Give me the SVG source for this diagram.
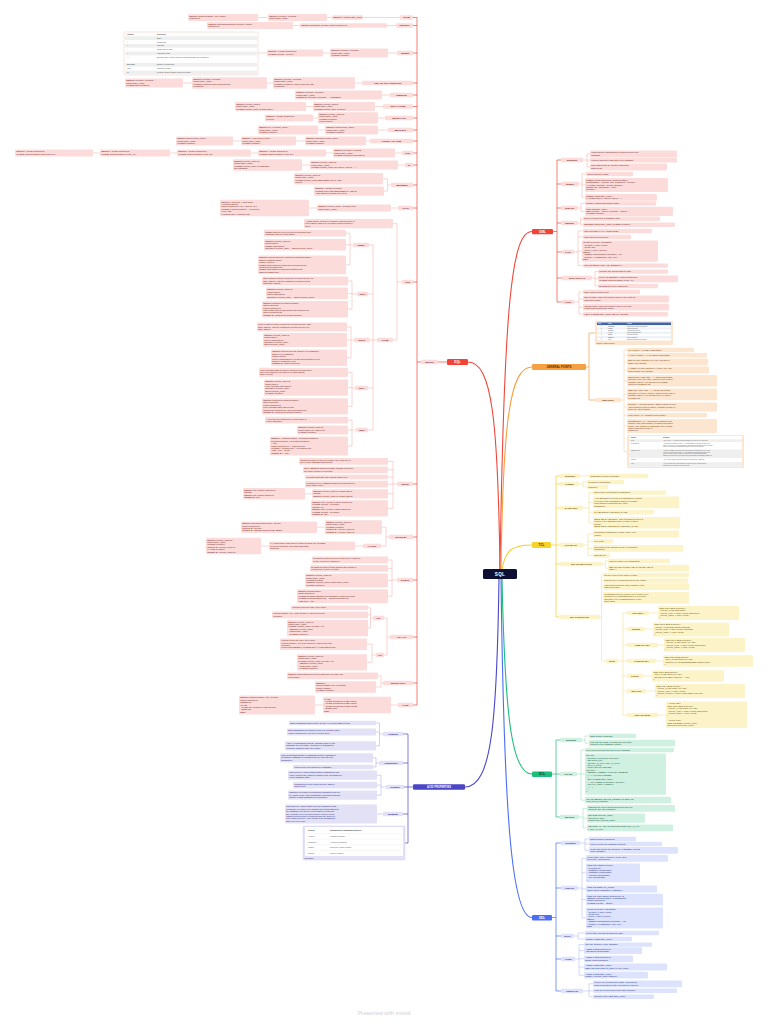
<svg xmlns="http://www.w3.org/2000/svg" width="768" height="1024" viewBox="0 0 768 1024">
<style>
text{font-family:"Liberation Sans",Arial,sans-serif}
.t{font-size:2.2px}
.s{font-size:1.15px}
.l{font-size:2.2px;font-weight:700;text-anchor:middle}
.m{font-size:3px;font-weight:700;text-anchor:middle}
.nr{fill:#fcdcdb}.xr{fill:#6b1f1b}
.no{fill:#fde6d0}.xo{fill:#6e3b0e}
.ny{fill:#fdf3c8}.xy{fill:#5e4b08}
.ng{fill:#d0f1e2}.xg{fill:#124d33}
.nb{fill:#dde3fd}.xb{fill:#1f317f}
.np{fill:#e2e1f6}.xp{fill:#29257a}
.c{fill:none;stroke-width:.45;stroke-linejoin:round}
.cr{stroke:#f4a39c}.co{stroke:#f8c58f}.cy{stroke:#efd66a}.cg{stroke:#7fd8b0}.cb{stroke:#99aaf4}.cp{stroke:#9b98e0}
.sp{fill:none;stroke-width:.7;stroke-linejoin:round}
.mc{fill:none;stroke-width:1.1}
</style>
<rect width="768" height="1024" fill="#ffffff"/>
<g id="connectors">
<path class="mc" stroke="#f0473b" d="M500,570 C498,420 492,362 468,362"/>
<path class="mc" stroke="#f0473b" d="M500,570 C504,300 512,231.5 532,231.5"/>
<path class="mc" stroke="#f5a042" d="M501,570 C503,420 510,367 532,367"/>
<path class="mc" stroke="#f2d02c" d="M502,570 C505,550 512,545 532,545"/>
<path class="mc" stroke="#1dbf7b" d="M502,578 C505,720 512,774 532,774"/>
<path class="mc" stroke="#4c6ef5" d="M501,578 C504,820 512,917.5 532,917.5"/>
<path class="mc" stroke="#4a46c6" d="M499,578 C497,720 492,787 465,787"/>
<path class="sp" stroke="#f0473b" d="M438,362H447M421,362H417M417,17.5V705M413,17.5H417M413,25.5H417M413,53H417M413,83H417M413,95H417M413,106.5H417M413,118H417M413,130H417M413,141H417M413,153H417M413,165H417M413,185H417M413,208H417M413,282H417M413,484H417M413,537H417M413,580H417M413,637H417M413,683H417M413,705H417"/>
<path class="c cr" d="M400,17.5H363M332,17.5H327M268,17.5H258M396,25.5H387M300,25.5H293M397,53H388M330,53H323M267,53H258M362,83H355M273,83H267M192,83H183M390,95H382M383,106.5H375M313,106.5H306M385,118H378M318,118H313M388,130H378M325,130H318M370,141H366M305,141H296M241,141H233M402,153H395M333,153H326M258,153H251M177,153H170M100,153H93M405,165H398M310,165H302M391,185H387.5M387.5,178.8V191.1M387.5,178.8H383M387.5,191.1H384M398,208H391M317,208H309M402,282H397M397,223.6V340M397,223.6H393M397,340H393M377,340H373M373,245V430M373,245H369M373,294H368M373,340H370M373,388H368M373,430H368M353,245H350M350,233.2V264.9M350,233.2H346M350,244.8H346M350,264.9H346M357,294H352M352,281V309.2M352,281H348M352,293.4H348M352,309.2H348M354,340H351M351,327V357.8M351,327H347M351,340H347M351,357.8H347M355,388H352M352,372.4V406.4M352,372.4H348M352,387.6H348M352,406.4H348M356,430H352M352,420.2V446M352,420.2H348M352,430H348M352,446H348M397,484H393M393,461.4V508.4M393,461.4H388M393,469.8H388M393,477H388M393,484.2H388M393,493.8H388M393,508.4H388M312,493.8H305M389,537H386M386,527.2V546M386,527.2H382M386,546H381M325,527.2H317M363,546H355M269,546H261M397,580H392M392,560V596.2M392,560H388M392,568.4H388M392,580.4H388M392,596.2H388M390,637H387M387,618V655M387,618H384M387,655H384M373,618H370.5M370.5,607.8V628M370.5,607.8H368M370.5,614.8H368M370.5,628H368M376,655H372M372,644.2V662.4M372,644.2H367M372,662.4H367M383,683H381M381,675.8V687M381,675.8H378M381,687H376M398,705H391M323,705H315"/>
<path class="sp" stroke="#4a46c6" d="M413,787H408M408,734V843M403,734H408M403,763H408M404,787H408M403,814H408M405,843H408"/>
<path class="c cp" d="M383,734H379.5M379.5,723V745.8M379.5,723H376M379.5,732H376M379.5,745.8H376M379,763H376M376,757.8V767M376,757.8H373M376,767H373M386,787H381M381,775.2V795.2M381,775.2H377M381,785.2H377M381,795.2H377M383,814H377"/>
<path class="sp" stroke="#f0473b" d="M553,231.5H557M557,160V302M557,160H561M557,184H561M557,208H561M557,223H561M557,252H562M557,278H562M557,302H562"/>
<path class="c cr" d="M583,160H587M587,154V167M587,154H590M587,160.2H590M587,167H590M579,184H582M582,174V197.4M582,174H586M582,185H585M582,197.4H585M578,208H581M581,203.4V211.4M581,203.4H585M581,211.4H585M578,223H580.5M580.5,218.8V224.8M580.5,218.8H583M580.5,224.8H583M574,252H578M578,231V265.6M578,231H583M578,237H583M578,251.2H582M578,265.6H583M592,278H595M595,271.6V286M595,271.6H598M595,278.8H598M595,286H598M574,302H579M579,292V314.2M579,292H583M579,299H583M579,307.2H583M579,314.2H583"/>
<path class="sp" stroke="#f5a042" d="M586,367H589M589,333V400M589,333H595M589,400H595"/>
<path class="c co" d="M621,400H624M624,350V451.5M624,350H627M624,355.2H627M624,362H627M624,370H627M624,380.8H627M624,394.4H627M624,407H627M624,415.2H627M624,426H627M624,451.5H627"/>
<path class="sp" stroke="#f2d02c" d="M551,545H556M556,476V617M556,476H560M556,484H560M556,508H559M556,545H559M556,564H560M556,617H559"/>
<path class="c cy" d="M580,476H589M579,484H583M583,482V487M583,482H587M583,487H587M583,508H589M589,492.6V522.8M589,492.6H593M589,502.4H593M589,512.2H593M589,522.8H593M583,545H588M588,534V555.6M588,534H593M588,541.2H593M588,548.4H593M588,555.6H593M603,564H605.5M605.5,561V568.2M605.5,561H608M605.5,568.2H608M600,617H601.5M601.5,575V661M601.5,575H603M601.5,580.6H603M601.5,586.6H603M601.5,597.8H603M601.5,661H606M618,661H623M623,613V715M623,613H627M623,629H627M623,645H627M623,661H627M623,676H627M623,691H627M623,715H627M649,613H658M645,629H653M658,645H664M656,661H663M643,676H652M646,691H655M658,715H666"/>
<path class="sp" stroke="#1dbf7b" d="M552,774H556M556,740V817M556,740H560M556,774H560M556,817H560"/>
<path class="c cg" d="M582,740H585M585,736V743.2M585,736H589M585,743.2H589M577,774H581M581,750V800.2M581,750H585M581,774.1H585M581,800.2H585M579,817H583M583,808.4V827.8M583,808.4H587M583,818.2H587M583,827.8H587"/>
<path class="sp" stroke="#4c6ef5" d="M552,917.5H556M556,843V991M556,843H561M556,888H561M556,936H561M556,959H561M556,991H561"/>
<path class="c cb" d="M580,843H585M585,839V850.4M585,839H589M585,844H589M585,850.4H589M578,888H582M582,858.4V918M582,858.4H586M582,872.8H586M582,889H586M582,899.6H586M582,918H586M574,936H578M578,933V939M578,933H585M578,939H585M575,959H579M579,944.6V975.2M579,944.6H584M579,950.6H584M579,958.8H584M579,967H584M579,975.2H584M583,991H589M589,983.8V996.8M589,983.8H593M589,990.8H593M589,996.8H593"/>
</g>

<g id="sql"><rect x="483" y="569" width="34" height="10" rx="1.5" fill="#0e1033"/><text class="m" x="500" y="575.7" style="font-size:4.6px;fill:#fff;letter-spacing:.3px">SQL</text></g>

<!-- DQL -->
<g id="dql"><rect x="447" y="359" width="21" height="6" rx="1.2" fill="#f44336"/><text class="m" x="457.5" y="363.1" fill="#fff">DQL</text></g>
<g id="l-select"><rect class="nr" x="421" y="359.8" width="17" height="4.4" rx="1"/><text class="l xr" x="429.5" y="362.8">SELECT</text></g>
<g id="l-from"><rect class="nr" x="400" y="15.3" width="13" height="4.4" rx="1"/><text class="l xr" x="406.5" y="18.3">FROM</text></g>
<g id="l-distinct"><rect class="nr" x="396" y="23.3" width="17" height="4.4" rx="1"/><text class="l xr" x="404.5" y="26.3">DISTINCT</text></g>
<g id="l-where"><rect class="nr" x="397" y="50.8" width="16" height="4.4" rx="1"/><text class="l xr" x="405" y="53.8">WHERE</text></g>
<g id="l-andornot"><rect class="nr" x="362" y="80.8" width="51" height="4.4" rx="1"/><text class="l xr" x="387.5" y="83.8">AND, OR, NOT OPERATOR</text></g>
<g id="l-orderby"><rect class="nr" x="390" y="92.8" width="23" height="4.4" rx="1"/><text class="l xr" x="401.5" y="95.8">ORDER BY</text></g>
<g id="l-null"><rect class="nr" x="383" y="104.3" width="30" height="4.4" rx="1"/><text class="l xr" x="398" y="107.3">NULL VALUES</text></g>
<g id="l-top"><rect class="nr" x="385" y="115.8" width="28" height="4.4" rx="1"/><text class="l xr" x="399" y="118.8">SELECT TOP</text></g>
<g id="l-minmax"><rect class="nr" x="388" y="127.8" width="25" height="4.4" rx="1"/><text class="l xr" x="400.5" y="130.8">MIN &amp; MAX</text></g>
<g id="l-count"><rect class="nr" x="370" y="138.8" width="43" height="4.4" rx="1"/><text class="l xr" x="391.5" y="141.8">COUNT, AVG, SUM</text></g>
<g id="l-like"><rect class="nr" x="402" y="150.8" width="11" height="4.4" rx="1"/><text class="l xr" x="407.5" y="153.8">LIKE</text></g>
<g id="l-in"><rect class="nr" x="405" y="162.8" width="8" height="4.4" rx="1"/><text class="l xr" x="409" y="165.8">IN</text></g>
<g id="l-between"><rect class="nr" x="391" y="182.8" width="22" height="4.4" rx="1"/><text class="l xr" x="402" y="185.8">BETWEEN</text></g>
<g id="l-alias"><rect class="nr" x="398" y="205.8" width="15" height="4.4" rx="1"/><text class="l xr" x="405.5" y="208.8">ALIAS</text></g>
<g id="l-join"><rect class="nr" x="402" y="279.8" width="11" height="4.4" rx="1"/><text class="l xr" x="407.5" y="282.8">JOIN</text></g>
<g id="l-types"><rect class="nr" x="377" y="337.8" width="16" height="4.4" rx="1"/><text class="l xr" x="385" y="340.8">TYPES</text></g>
<g id="l-inner"><rect class="nr" x="353" y="242.8" width="16" height="4.4" rx="1"/><text class="l xr" x="361" y="245.8">INNER</text></g>
<g id="l-left"><rect class="nr" x="357" y="291.8" width="11" height="4.4" rx="1"/><text class="l xr" x="362.5" y="294.8">LEFT</text></g>
<g id="l-right"><rect class="nr" x="354" y="337.8" width="16" height="4.4" rx="1"/><text class="l xr" x="362" y="340.8">RIGHT</text></g>
<g id="l-full"><rect class="nr" x="355" y="385.8" width="13" height="4.4" rx="1"/><text class="l xr" x="361.5" y="388.8">FULL</text></g>
<g id="l-self"><rect class="nr" x="356" y="427.8" width="12" height="4.4" rx="1"/><text class="l xr" x="362" y="430.8">SELF</text></g>
<g id="l-union"><rect class="nr" x="397" y="481.8" width="16" height="4.4" rx="1"/><text class="l xr" x="405" y="484.8">UNION</text></g>
<g id="l-groupby"><rect class="nr" x="389" y="534.8" width="24" height="4.4" rx="1"/><text class="l xr" x="401" y="537.8">GROUP BY</text></g>
<g id="l-having"><rect class="nr" x="363" y="543.8" width="18" height="4.4" rx="1"/><text class="l xr" x="372" y="546.8">HAVING</text></g>
<g id="l-exists"><rect class="nr" x="397" y="577.8" width="16" height="4.4" rx="1"/><text class="l xr" x="405" y="580.8">EXISTS</text></g>
<g id="l-anyall"><rect class="nr" x="390" y="634.8" width="23" height="4.4" rx="1"/><text class="l xr" x="401.5" y="637.8">ANY, ALL</text></g>
<g id="l-any"><rect class="nr" x="373" y="615.8" width="11" height="4.4" rx="1"/><text class="l xr" x="378.5" y="618.8">ANY</text></g>
<g id="l-all"><rect class="nr" x="376" y="652.8" width="8" height="4.4" rx="1"/><text class="l xr" x="380" y="655.8">ALL</text></g>
<g id="l-into"><rect class="nr" x="383" y="680.8" width="30" height="4.4" rx="1"/><text class="l xr" x="398" y="683.8">SELECT INTO</text></g>
<g id="l-case"><rect class="nr" x="398" y="702.8" width="15" height="4.4" rx="1"/><text class="l xr" x="405.5" y="705.8">CASE</text></g>

<g id="from-a"><rect class="nr" x="332" y="15.3" width="31" height="4.4" rx="1"/><text class="t xr" x="333.2" y="18.1">SELECT * FROM table_name</text></g>
<g id="from-b"><rect class="nr" x="268" y="14.1" width="59" height="6.8" rx="1"/><text class="t xr" x="269.2" y="16.9">SELECT column1, column2, ...<tspan x="269.2" dy="2.4">FROM table_name;</tspan></text></g>
<g id="from-c"><rect class="nr" x="188" y="14.1" width="70" height="6.8" rx="1"/><text class="t xr" x="189.2" y="16.9">SELECT CustomerName, City FROM<tspan x="189.2" dy="2.4">Customers;</tspan></text></g>
<g id="distinct-a"><rect class="nr" x="300" y="23.3" width="87" height="4.4" rx="1"/><text class="t xr" x="301.2" y="26.1">SELECT DISTINCT Country FROM Customers;</text></g>
<g id="distinct-b"><rect class="nr" x="207" y="22.1" width="86" height="6.8" rx="1"/><text class="t xr" x="208.2" y="24.9">SELECT COUNT(DISTINCT Country) FROM<tspan x="208.2" dy="2.4">Customers;</tspan></text></g>
<g id="where-a"><rect class="nr" x="330" y="48.4" width="58" height="9.2" rx="1"/><text class="t xr" x="331.2" y="51.2">SELECT column1, column2, ...<tspan x="331.2" dy="2.4">FROM table_name</tspan><tspan x="331.2" dy="2.4">WHERE condition;</tspan></text></g>
<g id="where-b"><rect class="nr" x="267" y="49.6" width="56" height="6.8" rx="1"/><text class="t xr" x="268.2" y="52.4">SELECT * FROM Customers<tspan x="268.2" dy="2.4">WHERE Country='Mexico';</tspan></text></g>
<g id="where-table">
<rect x="124" y="32" width="134" height="43" rx="1" fill="#ffffff" stroke="#f6b8b3" stroke-width=".4"/>
<rect x="125" y="36.3" width="132" height="3.8" fill="#efefef"/>
<rect x="125" y="43.9" width="132" height="3.8" fill="#efefef"/>
<rect x="125" y="51.5" width="132" height="3.8" fill="#efefef"/>
<rect x="125" y="62.9" width="132" height="3.8" fill="#efefef"/>
<rect x="125" y="70.5" width="132" height="3.8" fill="#efefef"/>
<g style="font-size:1.6px" fill="#444">
<text x="127" y="35" font-weight="700">Operator</text><text x="157" y="35" font-weight="700">Description</text>
<text x="127" y="38.8">=</text><text x="157" y="38.8">Equal</text>
<text x="127" y="42.6">&gt;</text><text x="157" y="42.6">Greater than</text>
<text x="127" y="46.4">&lt;</text><text x="157" y="46.4">Less than</text>
<text x="127" y="50.2">&gt;=</text><text x="157" y="50.2">Greater than or equal</text>
<text x="127" y="54">&lt;=</text><text x="157" y="54">Less than or equal</text>
<text x="127" y="57.8">&lt;&gt;</text><text x="157" y="57.8">Not equal. Note: In some versions of SQL this operator may be written as<tspan x="157" dy="1.6">!=</tspan></text>
<text x="127" y="65.4">BETWEEN</text><text x="157" y="65.4">Between a certain range</text>
<text x="127" y="69.2">LIKE</text><text x="157" y="69.2">Search for a pattern</text>
<text x="127" y="73">IN</text><text x="157" y="73">To specify multiple possible values for a column</text>
</g>
</g>
<g id="andornot-a"><rect class="nr" x="273" y="77.2" width="82" height="11.6" rx="1"/><text class="t xr" x="274.2" y="80">SELECT column1, column2, ...<tspan x="274.2" dy="2.4">FROM table_name</tspan><tspan x="274.2" dy="2.4">WHERE condition1 AND condition2 AND</tspan><tspan x="274.2" dy="2.4">condition3 ...;</tspan></text></g>
<g id="andornot-b"><rect class="nr" x="192" y="77.2" width="75" height="11.6" rx="1"/><text class="t xr" x="193.2" y="80">SELECT column1, column2, ...<tspan x="193.2" dy="2.4">FROM table_name</tspan><tspan x="193.2" dy="2.4">WHERE condition1 OR condition2 OR</tspan><tspan x="193.2" dy="2.4">condition3 ...;</tspan></text></g>
<g id="andornot-c"><rect class="nr" x="125" y="78.4" width="58" height="9.2" rx="1"/><text class="t xr" x="126.2" y="81.2">SELECT column1, column2, ...<tspan x="126.2" dy="2.4">FROM table_name</tspan><tspan x="126.2" dy="2.4">WHERE NOT condition;</tspan></text></g>
<g id="orderby-a"><rect class="nr" x="295" y="90.4" width="87" height="9.2" rx="1"/><text class="t xr" x="296.2" y="93.2">SELECT column1, column2, ...<tspan x="296.2" dy="2.4">FROM table_name</tspan><tspan x="296.2" dy="2.4">ORDER BY column1, column2, ... ASC|DESC;</tspan></text></g>
<g id="null-a"><rect class="nr" x="313" y="101.9" width="62" height="9.2" rx="1"/><text class="t xr" x="314.2" y="104.7">SELECT column_names<tspan x="314.2" dy="2.4">FROM table_name</tspan><tspan x="314.2" dy="2.4">WHERE column_name IS NULL;</tspan></text></g>
<g id="null-b"><rect class="nr" x="235" y="101.9" width="71" height="9.2" rx="1"/><text class="t xr" x="236.2" y="104.7">SELECT column_names<tspan x="236.2" dy="2.4">FROM table_name</tspan><tspan x="236.2" dy="2.4">WHERE column_name IS NOT NULL;</tspan></text></g>
<g id="top-a"><rect class="nr" x="318" y="112.2" width="60" height="11.6" rx="1"/><text class="t xr" x="319.2" y="115">SELECT column_name(s)<tspan x="319.2" dy="2.4">FROM table_name</tspan><tspan x="319.2" dy="2.4">WHERE condition</tspan><tspan x="319.2" dy="2.4">LIMIT number;</tspan></text></g>
<g id="top-b"><rect class="nr" x="265" y="114.6" width="48" height="6.8" rx="1"/><text class="t xr" x="266.2" y="117.4">SELECT * FROM Customers<tspan x="266.2" dy="2.4">LIMIT 3;</tspan></text></g>
<g id="minmax-a"><rect class="nr" x="325" y="125.4" width="53" height="9.2" rx="1"/><text class="t xr" x="326.2" y="128.2">SELECT MIN(column_name)<tspan x="326.2" dy="2.4">FROM table_name</tspan><tspan x="326.2" dy="2.4">WHERE condition;</tspan></text></g>
<g id="minmax-b"><rect class="nr" x="258" y="125.4" width="60" height="9.2" rx="1"/><text class="t xr" x="259.2" y="128.2">SELECT MAX(column_name)<tspan x="259.2" dy="2.4">FROM table_name</tspan><tspan x="259.2" dy="2.4">WHERE condition;</tspan></text></g>
<g id="count-a"><rect class="nr" x="305" y="136.4" width="61" height="9.2" rx="1"/><text class="t xr" x="306.2" y="139.2">SELECT COUNT(column_name)<tspan x="306.2" dy="2.4">FROM table_name</tspan><tspan x="306.2" dy="2.4">WHERE condition;</tspan></text></g>
<g id="count-b"><rect class="nr" x="241" y="136.4" width="55" height="9.2" rx="1"/><text class="t xr" x="242.2" y="139.2">SELECT AVG(column_name)<tspan x="242.2" dy="2.4">FROM table_name</tspan><tspan x="242.2" dy="2.4">WHERE condition;</tspan></text></g>
<g id="count-c"><rect class="nr" x="176" y="136.4" width="57" height="9.2" rx="1"/><text class="t xr" x="177.2" y="139.2">SELECT SUM(column_name)<tspan x="177.2" dy="2.4">FROM table_name</tspan><tspan x="177.2" dy="2.4">WHERE condition;</tspan></text></g>
<g id="like-a"><rect class="nr" x="333" y="148.4" width="62" height="9.2" rx="1"/><text class="t xr" x="334.2" y="151.2">SELECT column1, column2, ...<tspan x="334.2" dy="2.4">FROM table_name</tspan><tspan x="334.2" dy="2.4">WHERE columnN LIKE pattern;</tspan></text></g>
<g id="like-b"><rect class="nr" x="258" y="149.6" width="68" height="6.8" rx="1"/><text class="t xr" x="259.2" y="152.4">SELECT * FROM Customers<tspan x="259.2" dy="2.4">WHERE CustomerName LIKE 'a%';</tspan></text></g>
<g id="like-c"><rect class="nr" x="177" y="149.6" width="74" height="6.8" rx="1"/><text class="t xr" x="178.2" y="152.4">SELECT * FROM Customers<tspan x="178.2" dy="2.4">WHERE CustomerName LIKE '%a';</tspan></text></g>
<g id="like-d"><rect class="nr" x="100" y="149.6" width="70" height="6.8" rx="1"/><text class="t xr" x="101.2" y="152.4">SELECT * FROM Customers<tspan x="101.2" dy="2.4">WHERE CustomerName LIKE '_r%';</tspan></text></g>
<g id="like-e"><rect class="nr" x="15" y="149.6" width="78" height="6.8" rx="1"/><text class="t xr" x="16.2" y="152.4">SELECT * FROM Customers<tspan x="16.2" dy="2.4">WHERE CustomerName NOT LIKE 'a%';</tspan></text></g>
<g id="in-a"><rect class="nr" x="310" y="160.4" width="88" height="9.2" rx="1"/><text class="t xr" x="311.2" y="163.2">SELECT column_name(s)<tspan x="311.2" dy="2.4">FROM table_name</tspan><tspan x="311.2" dy="2.4">WHERE column_name IN (value1, value2, ...);</tspan></text></g>
<g id="in-b"><rect class="nr" x="233" y="159.2" width="69" height="11.6" rx="1"/><text class="t xr" x="234.2" y="162">SELECT column_name(s)<tspan x="234.2" dy="2.4">FROM table_name</tspan><tspan x="234.2" dy="2.4">WHERE column_name IN (SELECT</tspan><tspan x="234.2" dy="2.4">STATEMENT);</tspan></text></g>
<g id="between-a"><rect class="nr" x="294" y="173" width="89" height="11.6" rx="1"/><text class="t xr" x="295.2" y="175.8">SELECT column_name(s)<tspan x="295.2" dy="2.4">FROM table_name</tspan><tspan x="295.2" dy="2.4">WHERE column_name BETWEEN value1 AND</tspan><tspan x="295.2" dy="2.4">value2;</tspan></text></g>
<g id="between-b"><rect class="nr" x="314" y="186.5" width="70" height="9.2" rx="1"/><text class="t xr" x="315.2" y="189.3">SELECT * FROM Products<tspan x="315.2" dy="2.4">WHERE Price NOT BETWEEN 10 AND 20</tspan><tspan x="315.2" dy="2.4">AND CategoryID NOT IN (1,2,3);</tspan></text></g>
<g id="alias-a"><rect class="nr" x="317" y="204.6" width="74" height="6.8" rx="1"/><text class="t xr" x="318.2" y="207.4">SELECT column_name AS alias_name<tspan x="318.2" dy="2.4">FROM table_name;</tspan></text></g>
<g id="alias-b"><rect class="nr" x="220" y="199.8" width="89" height="16.4" rx="1"/><text class="t xr" x="221.2" y="202.6">SELECT o.OrderID, o.OrderDate,<tspan x="221.2" dy="2.4">c.CustomerName</tspan><tspan x="221.2" dy="2.4">FROM Customers AS c, Orders AS o</tspan><tspan x="221.2" dy="2.4">WHERE c.CustomerName='Around the</tspan><tspan x="221.2" dy="2.4">Horn' AND</tspan><tspan x="221.2" dy="2.4">c.CustomerID=o.CustomerID;</tspan></text></g>
<g id="join-desc"><rect class="nr" x="304" y="219" width="89" height="9.2" rx="1"/><text class="t xr" x="305.2" y="221.8">A JOIN clause is used to combine rows from two or<tspan x="305.2" dy="2.4">more tables, based on a related column between</tspan><tspan x="305.2" dy="2.4">them.</tspan></text></g>
<g id="inner-a"><rect class="nr" x="264" y="229.8" width="82" height="6.8" rx="1"/><text class="t xr" x="265.2" y="232.6">INNER JOIN keyword selects records that have<tspan x="265.2" dy="2.4">matching values in both tables</tspan></text></g>
<g id="inner-b"><rect class="nr" x="264" y="239" width="82" height="11.6" rx="1"/><text class="t xr" x="265.2" y="241.8">SELECT column_name(s)<tspan x="265.2" dy="2.4">FROM table1</tspan><tspan x="265.2" dy="2.4">INNER JOIN table2</tspan><tspan x="265.2" dy="2.4">ON table1.column_name = table2.column_name;</tspan></text></g>
<g id="inner-c"><rect class="nr" x="258" y="255.5" width="88" height="18.8" rx="1"/><text class="t xr" x="259.2" y="258.3">SELECT Orders.OrderID, Customers.CustomerName,<tspan x="259.2" dy="2.4">Shippers.ShipperName</tspan><tspan x="259.2" dy="2.4">FROM ((Orders</tspan><tspan x="259.2" dy="2.4">INNER JOIN Customers ON Orders.CustomerID =</tspan><tspan x="259.2" dy="2.4">Customers.CustomerID)</tspan><tspan x="259.2" dy="2.4">INNER JOIN Shippers ON Orders.ShipperID =</tspan><tspan x="259.2" dy="2.4">Shippers.ShipperID);</tspan></text></g>
<g id="left-a"><rect class="nr" x="262" y="276.4" width="86" height="9.2" rx="1"/><text class="t xr" x="263.2" y="279.2">LEFT JOIN keyword returns all records from the left<tspan x="263.2" dy="2.4">table (table1), and the matching records from the</tspan><tspan x="263.2" dy="2.4">right table (table2)</tspan></text></g>
<g id="left-b"><rect class="nr" x="266" y="287.6" width="82" height="11.6" rx="1"/><text class="t xr" x="267.2" y="290.4">SELECT column_name(s)<tspan x="267.2" dy="2.4">FROM table1</tspan><tspan x="267.2" dy="2.4">LEFT JOIN table2</tspan><tspan x="267.2" dy="2.4">ON table1.column_name = table2.column_name;</tspan></text></g>
<g id="left-c"><rect class="nr" x="262" y="301" width="86" height="16.4" rx="1"/><text class="t xr" x="263.2" y="303.8">SELECT Customers.CustomerName,<tspan x="263.2" dy="2.4">Orders.OrderID</tspan><tspan x="263.2" dy="2.4">FROM Customers</tspan><tspan x="263.2" dy="2.4">LEFT JOIN Orders ON Customers.CustomerID =</tspan><tspan x="263.2" dy="2.4">Orders.CustomerID</tspan><tspan x="263.2" dy="2.4">ORDER BY Customers.CustomerName;</tspan></text></g>
<g id="right-a"><rect class="nr" x="257" y="322.4" width="90" height="9.2" rx="1"/><text class="t xr" x="258.2" y="325.2">RIGHT JOIN keyword returns all records from the right<tspan x="258.2" dy="2.4">table (table2), and the matching records from the left</tspan><tspan x="258.2" dy="2.4">table (table1)</tspan></text></g>
<g id="right-b"><rect class="nr" x="263" y="333" width="84" height="14" rx="1"/><text class="t xr" x="264.2" y="335.8">SELECT column_name(s)<tspan x="264.2" dy="2.4">FROM table1</tspan><tspan x="264.2" dy="2.4">RIGHT JOIN table2</tspan><tspan x="264.2" dy="2.4">ON table1.column_name =</tspan><tspan x="264.2" dy="2.4">table2.column_name;</tspan></text></g>
<g id="right-c"><rect class="nr" x="271" y="349.6" width="76" height="16.4" rx="1"/><text class="t xr" x="272.2" y="352.4">SELECT Orders.OrderID, Employees.LastName,<tspan x="272.2" dy="2.4">Employees.FirstName</tspan><tspan x="272.2" dy="2.4">FROM Orders</tspan><tspan x="272.2" dy="2.4">RIGHT JOIN Employees ON Orders.EmployeeID =</tspan><tspan x="272.2" dy="2.4">Employees.EmployeeID</tspan><tspan x="272.2" dy="2.4">ORDER BY Orders.OrderID;</tspan></text></g>
<g id="full-a"><rect class="nr" x="259" y="367.8" width="89" height="9.2" rx="1"/><text class="t xr" x="260.2" y="370.6">FULL OUTER JOIN keyword returns all records when<tspan x="260.2" dy="2.4">there is a match in left (table1) or right (table2)</tspan><tspan x="260.2" dy="2.4">table records</tspan></text></g>
<g id="full-b"><rect class="nr" x="264" y="379.4" width="84" height="16.4" rx="1"/><text class="t xr" x="265.2" y="382.2">SELECT column_name(s)<tspan x="265.2" dy="2.4">FROM table1</tspan><tspan x="265.2" dy="2.4">FULL OUTER JOIN table2</tspan><tspan x="265.2" dy="2.4">ON table1.column_name =</tspan><tspan x="265.2" dy="2.4">table2.column_name</tspan><tspan x="265.2" dy="2.4">WHERE condition;</tspan></text></g>
<g id="full-c"><rect class="nr" x="262" y="398.2" width="86" height="16.4" rx="1"/><text class="t xr" x="263.2" y="401">SELECT Customers.CustomerName,<tspan x="263.2" dy="2.4">Orders.OrderID</tspan><tspan x="263.2" dy="2.4">FROM Customers</tspan><tspan x="263.2" dy="2.4">FULL OUTER JOIN Orders ON</tspan><tspan x="263.2" dy="2.4">Customers.CustomerID=Orders.CustomerID</tspan><tspan x="263.2" dy="2.4">ORDER BY Customers.CustomerName;</tspan></text></g>
<g id="self-a"><rect class="nr" x="265" y="416.8" width="83" height="6.8" rx="1"/><text class="t xr" x="266.2" y="419.6">A self join is a regular join, but the table is<tspan x="266.2" dy="2.4">joined with itself.</tspan></text></g>
<g id="self-b"><rect class="nr" x="297" y="425.4" width="51" height="9.2" rx="1"/><text class="t xr" x="298.2" y="428.2">SELECT column_name(s)<tspan x="298.2" dy="2.4">FROM table1 T1, table1 T2</tspan><tspan x="298.2" dy="2.4">WHERE condition;</tspan></text></g>
<g id="self-c"><rect class="nr" x="270" y="436.6" width="78" height="18.8" rx="1"/><text class="t xr" x="271.2" y="439.4">SELECT A.CustomerName AS CustomerName1,<tspan x="271.2" dy="2.4">B.CustomerName AS CustomerName2,</tspan><tspan x="271.2" dy="2.4">A.City</tspan><tspan x="271.2" dy="2.4">FROM Customers A, Customers B</tspan><tspan x="271.2" dy="2.4">WHERE A.CustomerID &lt;&gt; B.CustomerID</tspan><tspan x="271.2" dy="2.4">AND A.City = B.City</tspan><tspan x="271.2" dy="2.4">ORDER BY A.City;</tspan></text></g>
<g id="union-a"><rect class="nr" x="299" y="458" width="89" height="6.8" rx="1"/><text class="t xr" x="300.2" y="460.8">UNION operator is used to combine the result-set of<tspan x="300.2" dy="2.4">two or more SELECT statements.</tspan></text></g>
<g id="union-b"><rect class="nr" x="303" y="466.4" width="85" height="6.8" rx="1"/><text class="t xr" x="304.2" y="469.2">Every SELECT statement within UNION must have<tspan x="304.2" dy="2.4">the same number of columns</tspan></text></g>
<g id="union-c"><rect class="nr" x="305" y="474.8" width="83" height="4.4" rx="1"/><text class="t xr" x="306.2" y="477.6">columns must also have similar data types</text></g>
<g id="union-d"><rect class="nr" x="305" y="480.8" width="83" height="6.8" rx="1"/><text class="t xr" x="306.2" y="483.6">columns in every SELECT statement must also be<tspan x="306.2" dy="2.4">in the same order</tspan></text></g>
<g id="union-e"><rect class="nr" x="312" y="489.2" width="76" height="9.2" rx="1"/><text class="t xr" x="313.2" y="492">SELECT column_name(s) FROM table1<tspan x="313.2" dy="2.4">UNION</tspan><tspan x="313.2" dy="2.4">SELECT column_name(s) FROM table2;</tspan></text></g>
<g id="union-f"><rect class="nr" x="243" y="488" width="62" height="11.6" rx="1"/><text class="t xr" x="244.2" y="490.8">SELECT City FROM Customers<tspan x="244.2" dy="2.4">UNION</tspan><tspan x="244.2" dy="2.4">SELECT City FROM Suppliers</tspan><tspan x="244.2" dy="2.4">ORDER BY City;</tspan></text></g>
<g id="union-g"><rect class="nr" x="311" y="500.2" width="77" height="16.4" rx="1"/><text class="t xr" x="312.2" y="503">SELECT City, Country FROM Customers<tspan x="312.2" dy="2.4">WHERE Country='Germany'</tspan><tspan x="312.2" dy="2.4">UNION ALL</tspan><tspan x="312.2" dy="2.4">SELECT City, Country FROM Suppliers</tspan><tspan x="312.2" dy="2.4">WHERE Country='Germany'</tspan><tspan x="312.2" dy="2.4">ORDER BY City;</tspan></text></g>
<g id="groupby-a"><rect class="nr" x="325" y="520.2" width="57" height="14" rx="1"/><text class="t xr" x="326.2" y="523">SELECT column_name(s)<tspan x="326.2" dy="2.4">FROM table_name</tspan><tspan x="326.2" dy="2.4">WHERE condition</tspan><tspan x="326.2" dy="2.4">GROUP BY column_name(s)</tspan><tspan x="326.2" dy="2.4">ORDER BY column_name(s);</tspan></text></g>
<g id="groupby-b"><rect class="nr" x="241" y="521.4" width="76" height="11.6" rx="1"/><text class="t xr" x="242.2" y="524.2">SELECT COUNT(CustomerID), Country<tspan x="242.2" dy="2.4">FROM Customers</tspan><tspan x="242.2" dy="2.4">GROUP BY Country</tspan><tspan x="242.2" dy="2.4">ORDER BY COUNT(CustomerID) DESC;</tspan></text></g>
<g id="having-a"><rect class="nr" x="269" y="541.4" width="86" height="9.2" rx="1"/><text class="t xr" x="270.2" y="544.2">HAVING clause was added to SQL because the WHERE<tspan x="270.2" dy="2.4">keyword cannot be used with aggregate</tspan><tspan x="270.2" dy="2.4">functions.</tspan></text></g>
<g id="having-b"><rect class="nr" x="206" y="537.8" width="55" height="16.4" rx="1"/><text class="t xr" x="207.2" y="540.6">SELECT column_name(s)<tspan x="207.2" dy="2.4">FROM table_name</tspan><tspan x="207.2" dy="2.4">WHERE condition</tspan><tspan x="207.2" dy="2.4">GROUP BY column_name(s)</tspan><tspan x="207.2" dy="2.4">HAVING condition</tspan><tspan x="207.2" dy="2.4">ORDER BY column_name(s);</tspan></text></g>
<g id="exists-a"><rect class="nr" x="312" y="556.6" width="76" height="6.8" rx="1"/><text class="t xr" x="313.2" y="559.4">EXISTS operator is used to test for the existence<tspan x="313.2" dy="2.4">of any record in a subquery.</tspan></text></g>
<g id="exists-b"><rect class="nr" x="310" y="565" width="78" height="6.8" rx="1"/><text class="t xr" x="311.2" y="567.8">EXISTS operator returns TRUE if the subquery<tspan x="311.2" dy="2.4">returns one or more records.</tspan></text></g>
<g id="exists-c"><rect class="nr" x="305" y="573.4" width="83" height="14" rx="1"/><text class="t xr" x="306.2" y="576.2">SELECT column_name(s)<tspan x="306.2" dy="2.4">FROM table_name</tspan><tspan x="306.2" dy="2.4">WHERE EXISTS</tspan><tspan x="306.2" dy="2.4">(SELECT column_name FROM table_name</tspan><tspan x="306.2" dy="2.4">WHERE condition);</tspan></text></g>
<g id="exists-d"><rect class="nr" x="297" y="589.2" width="91" height="14" rx="1"/><text class="t xr" x="298.2" y="592">SELECT SupplierName<tspan x="298.2" dy="2.4">FROM Suppliers</tspan><tspan x="298.2" dy="2.4">WHERE EXISTS (SELECT ProductName FROM Products</tspan><tspan x="298.2" dy="2.4">WHERE Products.SupplierID = Suppliers.supplierID</tspan><tspan x="298.2" dy="2.4">AND Price &lt; 20);</tspan></text></g>
<g id="any-a"><rect class="nr" x="291" y="605.6" width="77" height="4.4" rx="1"/><text class="t xr" x="292.2" y="608.4">returns a boolean value as a result</text></g>
<g id="any-b"><rect class="nr" x="272" y="611.4" width="96" height="6.8" rx="1"/><text class="t xr" x="273.2" y="614.2">returns TRUE if ANY of the subquery values meet the<tspan x="273.2" dy="2.4">condition</tspan></text></g>
<g id="any-c"><rect class="nr" x="287" y="619.8" width="81" height="16.4" rx="1"/><text class="t xr" x="288.2" y="622.6">SELECT column_name(s)<tspan x="288.2" dy="2.4">FROM table_name</tspan><tspan x="288.2" dy="2.4">WHERE column_name operator ANY</tspan><tspan x="288.2" dy="2.4">&#160;&#160;(SELECT column_name</tspan><tspan x="288.2" dy="2.4">&#160;&#160;FROM table_name</tspan><tspan x="288.2" dy="2.4">&#160;&#160;WHERE condition);</tspan></text></g>
<g id="all-a"><rect class="nr" x="280" y="638.4" width="87" height="11.6" rx="1"/><text class="t xr" x="281.2" y="641.2">returns a boolean value as a result<tspan x="281.2" dy="2.4">returns TRUE if ALL of the subquery values meet the</tspan><tspan x="281.2" dy="2.4">condition</tspan><tspan x="281.2" dy="2.4">is used with SELECT, WHERE and HAVING statements</tspan></text></g>
<g id="all-b"><rect class="nr" x="297" y="654.2" width="70" height="16.4" rx="1"/><text class="t xr" x="298.2" y="657">SELECT column_name(s)<tspan x="298.2" dy="2.4">FROM table_name</tspan><tspan x="298.2" dy="2.4">WHERE column_name operator ALL</tspan><tspan x="298.2" dy="2.4">&#160;&#160;(SELECT column_name</tspan><tspan x="298.2" dy="2.4">&#160;&#160;FROM table_name</tspan><tspan x="298.2" dy="2.4">&#160;&#160;WHERE condition);</tspan></text></g>
<g id="into-a"><rect class="nr" x="287" y="672.4" width="91" height="6.8" rx="1"/><text class="t xr" x="288.2" y="675.2">SELECT INTO statement copies data from one table into<tspan x="288.2" dy="2.4">a new table.</tspan></text></g>
<g id="into-b"><rect class="nr" x="315" y="681.2" width="61" height="11.6" rx="1"/><text class="t xr" x="316.2" y="684">SELECT *<tspan x="316.2" dy="2.4">INTO newtable [IN externaldb]</tspan><tspan x="316.2" dy="2.4">FROM oldtable</tspan><tspan x="316.2" dy="2.4">WHERE condition;</tspan></text></g>
<g id="case-a"><rect class="nr" x="323" y="696.8" width="68" height="16.4" rx="1"/><text class="t xr" x="324.2" y="699.6">CASE<tspan x="324.2" dy="2.4">&#160;&#160;WHEN condition1 THEN result1</tspan><tspan x="324.2" dy="2.4">&#160;&#160;WHEN condition2 THEN result2</tspan><tspan x="324.2" dy="2.4">&#160;&#160;WHEN conditionN THEN resultN</tspan><tspan x="324.2" dy="2.4">&#160;&#160;ELSE result</tspan><tspan x="324.2" dy="2.4">END;</tspan></text></g>
<g id="case-b"><rect class="nr" x="239" y="695.6" width="76" height="18.8" rx="1"/><text class="t xr" x="240.2" y="698.4">SELECT CustomerName, City, Country<tspan x="240.2" dy="2.4">FROM Customers</tspan><tspan x="240.2" dy="2.4">ORDER BY</tspan><tspan x="240.2" dy="2.4">(CASE</tspan><tspan x="240.2" dy="2.4">&#160;&#160;WHEN City IS NULL THEN Country</tspan><tspan x="240.2" dy="2.4">&#160;&#160;ELSE City</tspan><tspan x="240.2" dy="2.4">END);</tspan></text></g>

<!-- ACID -->
<g id="acid"><rect x="413" y="784.2" width="52" height="5.6" rx="1.2" fill="#4a46c6"/><text class="m" x="439" y="788" fill="#fff" style="font-size:2.6px">ACID PROPERTIES</text></g>
<g id="l-atomicity"><rect class="np" x="383" y="731.8" width="20" height="4.4" rx="1"/><text class="l xp" x="393" y="734.8">Atomicity</text></g>
<g id="l-consistency"><rect class="np" x="379" y="760.8" width="24" height="4.4" rx="1"/><text class="l xp" x="391" y="763.8">Consistency</text></g>
<g id="l-isolation"><rect class="np" x="386" y="784.8" width="18" height="4.4" rx="1"/><text class="l xp" x="395" y="787.8">Isolation</text></g>
<g id="l-durability"><rect class="np" x="383" y="811.8" width="20" height="4.4" rx="1"/><text class="l xp" x="393" y="814.8">Durability</text></g>
<g id="atom-a"><rect class="np" x="289" y="720.8" width="87" height="4.4" rx="1"/><text class="t xp" x="290.2" y="723.6">Entire transaction takes place at once or doesn't happen at all.</text></g>
<g id="atom-b"><rect class="np" x="287" y="728.6" width="89" height="6.8" rx="1"/><text class="t xp" x="288.2" y="731.4">Each transaction is considered as one unit and either<tspan x="288.2" dy="2.4">runs to completion or is not executed at all.</tspan></text></g>
<g id="atom-c"><rect class="np" x="285" y="741.2" width="91" height="9.2" rx="1"/><text class="t xp" x="286.2" y="744">Abort: If a transaction aborts, changes made to the<tspan x="286.2" dy="2.4">database are not visible. Commit: If a transaction</tspan><tspan x="286.2" dy="2.4">commits, changes made are visible.</tspan></text></g>
<g id="cons-a"><rect class="np" x="280" y="753.2" width="93" height="9.2" rx="1"/><text class="t xp" x="281.2" y="756">This means that integrity constraints must be maintained<tspan x="281.2" dy="2.4">so that the database is consistent before and after the</tspan><tspan x="281.2" dy="2.4">transaction.</tspan></text></g>
<g id="cons-b"><rect class="np" x="293" y="764.8" width="80" height="4.4" rx="1"/><text class="t xp" x="294.2" y="767.6">refers to the correctness of a database</text></g>
<g id="iso-a"><rect class="np" x="288" y="770.6" width="89" height="9.2" rx="1"/><text class="t xp" x="289.2" y="773.4">This property ensures that multiple transactions can<tspan x="289.2" dy="2.4">occur concurrently without leading to the inconsistency</tspan><tspan x="289.2" dy="2.4">of the database state.</tspan></text></g>
<g id="iso-b"><rect class="np" x="293" y="781.8" width="84" height="6.8" rx="1"/><text class="t xp" x="294.2" y="784.6">Transactions occur independently without<tspan x="294.2" dy="2.4">interference.</tspan></text></g>
<g id="iso-c"><rect class="np" x="288" y="790.6" width="89" height="9.2" rx="1"/><text class="t xp" x="289.2" y="793.4">Changes occurring in a particular transaction will not<tspan x="289.2" dy="2.4">be visible to any other transaction until that particular</tspan><tspan x="289.2" dy="2.4">change in that transaction is committed.</tspan></text></g>
<g id="dur-a"><rect class="np" x="285" y="804.6" width="92" height="18.8" rx="1"/><text class="t xp" x="286.2" y="807.4">This property ensures that once the transaction has<tspan x="286.2" dy="2.4">completed execution, the updates and modifications to</tspan><tspan x="286.2" dy="2.4">the database are stored in and written to disk and</tspan><tspan x="286.2" dy="2.4">they persist even if a system failure occurs. These</tspan><tspan x="286.2" dy="2.4">updates now become permanent and are stored in</tspan><tspan x="286.2" dy="2.4">non-volatile memory. The effects of the transaction,</tspan><tspan x="286.2" dy="2.4">thus, are never lost.</tspan></text></g>
<g id="acid-summary">
<rect class="np" x="303" y="826" width="102" height="34" rx="1" stroke="#c9c6ef" stroke-width=".4"/>
<rect x="305" y="827" width="98" height="29" fill="#ffffff"/>
<path d="M306,833.5H402M306,839.2H402M306,844.9H402M306,850.6H402" stroke="#e4e4e4" stroke-width=".3"/>
<g style="font-size:1.6px" fill="#555">
<text x="308" y="831.4" font-weight="700" fill="#333">Property</text><text x="330" y="831.4" font-weight="700" fill="#333">Responsibility for maintaining properties</text>
<text x="308" y="837">Atomicity</text><text x="330" y="837">Transaction Manager</text>
<text x="308" y="842.7">Consistency</text><text x="330" y="842.7">Application programmer</text>
<text x="308" y="848.4">Isolation</text><text x="330" y="848.4">Concurrency Control Manager</text>
<text x="308" y="854.1">Durability</text><text x="330" y="854.1">Recovery Manager</text>
</g>
<text class="t xp" x="304.5" y="858.6">Summary</text>
</g>

<!-- DML -->
<g id="dml"><rect x="532" y="229" width="21" height="5.2" rx="1.2" fill="#f44336"/><text class="m" x="542.5" y="232.7" fill="#fff">DML</text></g>
<g id="l-dml-def"><rect class="nr" x="561" y="157.8" width="22" height="4.4" rx="1"/><text class="l xr" x="572" y="160.8">Definition</text></g>
<g id="l-insert"><rect class="nr" x="561" y="181.8" width="18" height="4.4" rx="1"/><text class="l xr" x="570" y="184.8">INSERT</text></g>
<g id="l-update"><rect class="nr" x="561" y="205.8" width="17" height="4.4" rx="1"/><text class="l xr" x="569.5" y="208.8">UPDATE</text></g>
<g id="l-delete"><rect class="nr" x="561" y="220.8" width="17" height="4.4" rx="1"/><text class="l xr" x="569.5" y="223.8">DELETE</text></g>
<g id="l-call"><rect class="nr" x="562" y="249.8" width="12" height="4.4" rx="1"/><text class="l xr" x="568" y="252.8">CALL</text></g>
<g id="l-explain"><rect class="nr" x="562" y="275.8" width="30" height="4.4" rx="1"/><text class="l xr" x="577" y="278.8">EXPLAIN PLAN</text></g>
<g id="l-lock"><rect class="nr" x="562" y="299.8" width="12" height="4.4" rx="1"/><text class="l xr" x="568" y="302.8">LOCK</text></g>
<g id="dml-def-a"><rect class="nr" x="590" y="150.6" width="87" height="6.8" rx="1"/><text class="t xr" x="591.2" y="153.4">deals with the manipulation of data present in the<tspan x="591.2" dy="2.4">database</tspan></text></g>
<g id="dml-def-b"><rect class="nr" x="590" y="158" width="87" height="4.4" rx="1"/><text class="t xr" x="591.2" y="160.8">controls access to data and to the database</text></g>
<g id="dml-def-c"><rect class="nr" x="590" y="163.6" width="77" height="6.8" rx="1"/><text class="t xr" x="591.2" y="166.4">DCL statements are grouped with DML<tspan x="591.2" dy="2.4">statements</tspan></text></g>
<g id="ins-a"><rect class="nr" x="586" y="171.8" width="47" height="4.4" rx="1"/><text class="t xr" x="587.2" y="174.6">Insert data into a table</text></g>
<g id="ins-b"><rect class="nr" x="585" y="178" width="83" height="14" rx="1"/><text class="t xr" x="586.2" y="180.8">INSERT INTO Customers (CustomerName,<tspan x="586.2" dy="2.4">ContactName, Address, City, PostalCode, Country)</tspan><tspan x="586.2" dy="2.4">VALUES ('Cardinal', 'Tom B. Erichsen',</tspan><tspan x="586.2" dy="2.4">'Skagen 21', 'Stavanger', '4006',</tspan><tspan x="586.2" dy="2.4">'Norway');</tspan></text></g>
<g id="ins-c"><rect class="nr" x="585" y="194" width="72" height="6.8" rx="1"/><text class="t xr" x="586.2" y="196.8">INSERT INTO table_name<tspan x="586.2" dy="2.4">VALUES (value1, value2, value3, ...);</tspan></text></g>
<g id="upd-a"><rect class="nr" x="585" y="201.2" width="71" height="4.4" rx="1"/><text class="t xr" x="586.2" y="204">Update existing data within a table</text></g>
<g id="upd-b"><rect class="nr" x="585" y="206.8" width="88" height="9.2" rx="1"/><text class="t xr" x="586.2" y="209.6">UPDATE table_name<tspan x="586.2" dy="2.4">SET column1 = value1, column2 = value2, ...</tspan><tspan x="586.2" dy="2.4">WHERE condition;</tspan></text></g>
<g id="del-a"><rect class="nr" x="583" y="216.6" width="77" height="4.4" rx="1"/><text class="t xr" x="584.2" y="219.4">Delete records from a database table</text></g>
<g id="del-b"><rect class="nr" x="583" y="222.6" width="92" height="4.4" rx="1"/><text class="t xr" x="584.2" y="225.4">DELETE FROM table_name WHERE condition;</text></g>
<g id="call-a"><rect class="nr" x="583" y="228.8" width="69" height="4.4" rx="1"/><text class="t xr" x="584.2" y="231.6">Call a PL/SQL or JAVA subprogram</text></g>
<g id="call-b"><rect class="nr" x="583" y="234.8" width="48" height="4.4" rx="1"/><text class="t xr" x="584.2" y="237.6">Print values in procedure</text></g>
<g id="call-c"><rect class="nr" x="582" y="240.6" width="76" height="21.2" rx="1"/><text class="t xr" x="583.2" y="243.4">Create procedure InsertData(<tspan x="583.2" dy="2.4">&#160;&#160;IN name VARCHAR(50),</tspan><tspan x="583.2" dy="2.4">&#160;&#160;IN age INT,</tspan><tspan x="583.2" dy="2.4">&#160;&#160;IN bio VARCHAR(100))</tspan><tspan x="583.2" dy="2.4">BEGIN</tspan><tspan x="583.2" dy="2.4">&#160;&#160;INSERT INTO EmpRecord(Name, Age,</tspan><tspan x="583.2" dy="2.4">&#160;&#160;Details) VALUES(name, age, bio);</tspan><tspan x="583.2" dy="2.4">END</tspan></text></g>
<g id="call-d"><rect class="nr" x="583" y="263.4" width="85" height="4.4" rx="1"/><text class="t xr" x="584.2" y="266.2">Call InsertData ('Kapil', 23, 'Bangalore');</text></g>
<g id="exp-a"><rect class="nr" x="598" y="269.4" width="70" height="4.4" rx="1"/><text class="t xr" x="599.2" y="272.2">describe the access path to data</text></g>
<g id="exp-b"><rect class="nr" x="598" y="275.4" width="80" height="6.8" rx="1"/><text class="t xr" x="599.2" y="278.2">EXPLAIN SELECT * FROM Customers<tspan x="599.2" dy="2.4">WHERE CustomerName LIKE 'A%';</tspan></text></g>
<g id="exp-c"><rect class="nr" x="598" y="283.8" width="60" height="4.4" rx="1"/><text class="t xr" x="599.2" y="286.6">Explains the query statement</text></g>
<g id="lock-a"><rect class="nr" x="583" y="289.8" width="57" height="4.4" rx="1"/><text class="t xr" x="584.2" y="292.6">Table control concurrency</text></g>
<g id="lock-b"><rect class="nr" x="583" y="295.6" width="86" height="6.8" rx="1"/><text class="t xr" x="584.2" y="298.4">READ LOCK: This lock allows a user to only read the<tspan x="584.2" dy="2.4">data from a table.</tspan></text></g>
<g id="lock-c"><rect class="nr" x="583" y="303.8" width="86" height="6.8" rx="1"/><text class="t xr" x="584.2" y="306.6">WRITE LOCK: This lock allows a user to do both<tspan x="584.2" dy="2.4">reading and writing into a table.</tspan></text></g>
<g id="lock-d"><rect class="nr" x="583" y="312" width="85" height="4.4" rx="1"/><text class="t xr" x="584.2" y="314.8">LOCK TABLES table_name [READ | WRITE];</text></g>

<!-- GENERAL POINTS -->
<g id="general"><rect x="532" y="364" width="54" height="6" rx="1.2" fill="#f5a042"/><text class="m" x="559" y="368.1" fill="#5b2d00" style="font-size:2.8px">GENERAL POINTS</text></g>
<g id="order-exec">
<rect class="no" x="595" y="321" width="78" height="24" rx="1"/>
<rect x="597" y="322.5" width="74" height="18" fill="#ffffff"/>
<rect x="597" y="322.5" width="74" height="2.6" fill="#3f63a8"/>
<rect x="597" y="327.3" width="74" height="2.2" fill="#eef1f8"/>
<rect x="597" y="331.7" width="74" height="2.2" fill="#eef1f8"/>
<rect x="597" y="336.1" width="74" height="2.2" fill="#eef1f8"/>
<g style="font-size:1.15px" fill="#444">
<text x="598" y="324.3" fill="#fff" font-weight="700">Order</text><text x="608" y="324.3" fill="#fff" font-weight="700">Clause</text><text x="627" y="324.3" fill="#fff" font-weight="700">Function</text>
<text x="601" y="326.6">1</text><text x="608" y="326.6">FROM/JOIN</text><text x="627" y="326.6">Choose and join tables to get base data</text>
<text x="601" y="328.8">2</text><text x="608" y="328.8">WHERE</text><text x="627" y="328.8">Filters the base data</text>
<text x="601" y="331">3</text><text x="608" y="331">GROUP BY</text><text x="627" y="331">Aggregates the base data</text>
<text x="601" y="333.2">4</text><text x="608" y="333.2">HAVING</text><text x="627" y="333.2">Filters the aggregated data</text>
<text x="601" y="335.4">5</text><text x="608" y="335.4">SELECT</text><text x="627" y="335.4">Returns the final data</text>
<text x="601" y="337.6">6</text><text x="608" y="337.6">ORDER BY</text><text x="627" y="337.6">Sorts the final data</text>
<text x="601" y="339.8">7</text><text x="608" y="339.8">LIMIT</text><text x="627" y="339.8">Limits the returned data to a row count</text>
</g>
<text class="t xo" x="596.5" y="343.6">Order of Execution</text>
</g>
<g id="l-datatypes"><rect class="no" x="595" y="397.8" width="26" height="4.4" rx="1"/><text class="l xo" x="608" y="400.8">Data Types</text></g>
<g id="dt-a"><rect class="no" x="627" y="347.8" width="67" height="4.4" rx="1"/><text class="t xo" x="628.2" y="350.6">CHAR(size) A FIXED length string</text></g>
<g id="dt-b"><rect class="no" x="627" y="353" width="80" height="4.4" rx="1"/><text class="t xo" x="628.2" y="355.8">VARCHAR(size) A VARIABLE length string</text></g>
<g id="dt-c"><rect class="no" x="627" y="358.6" width="81" height="6.8" rx="1"/><text class="t xo" x="628.2" y="361.4">BINARY(size) Equal to CHAR(), but stores<tspan x="628.2" dy="2.4">binary byte strings</tspan></text></g>
<g id="dt-d"><rect class="no" x="627" y="366.6" width="82" height="6.8" rx="1"/><text class="t xo" x="628.2" y="369.4">VARBINARY(size) Equal to VARCHAR(), but<tspan x="628.2" dy="2.4">stores binary byte strings</tspan></text></g>
<g id="dt-e"><rect class="no" x="627" y="375" width="90" height="11.6" rx="1"/><text class="t xo" x="628.2" y="377.8">ENUM(val1, val2, val3, ...) A string object that<tspan x="628.2" dy="2.4">can have only one value, chosen from a list of</tspan><tspan x="628.2" dy="2.4">possible values. You can list up to 65535</tspan><tspan x="628.2" dy="2.4">values in an ENUM list.</tspan></text></g>
<g id="dt-f"><rect class="no" x="627" y="388.6" width="90" height="11.6" rx="1"/><text class="t xo" x="628.2" y="391.4">SET(val1, val2, val3, ...) A string object that<tspan x="628.2" dy="2.4">can have 0 or more values, chosen from a list of</tspan><tspan x="628.2" dy="2.4">possible values. You can list up to 64 values</tspan><tspan x="628.2" dy="2.4">in a SET list.</tspan></text></g>
<g id="dt-g"><rect class="no" x="627" y="402.4" width="90" height="9.2" rx="1"/><text class="t xo" x="628.2" y="405.2">INT(size) A medium integer. Signed range is from<tspan x="628.2" dy="2.4">-2147483648 to 2147483647. Unsigned range is</tspan><tspan x="628.2" dy="2.4">from 0 to 4294967295.</tspan></text></g>
<g id="dt-h"><rect class="no" x="627" y="413" width="80" height="4.4" rx="1"/><text class="t xo" x="628.2" y="415.8">FLOAT(size, d) A floating point number.</text></g>
<g id="dt-i"><rect class="no" x="627" y="419" width="90" height="14" rx="1"/><text class="t xo" x="628.2" y="421.8">DOUBLE(size, d) A normal-size floating point<tspan x="628.2" dy="2.4">number. The total number of digits is specified</tspan><tspan x="628.2" dy="2.4">in size. The number of digits after the decimal</tspan><tspan x="628.2" dy="2.4">point is specified in the d</tspan><tspan x="628.2" dy="2.4">parameter.</tspan></text></g>
<g id="dt-table">
<rect class="no" x="627" y="435" width="117" height="33" rx="1"/>
<rect x="629" y="436" width="113" height="31" fill="#ffffff"/>
<rect x="629" y="439.3" width="113" height="2.8" fill="#efefef"/>
<rect x="629" y="449.4" width="113" height="8.6" fill="#efefef"/>
<rect x="629" y="462.2" width="113" height="4.6" fill="#efefef"/>
<g class="s" fill="#555">
<text x="631" y="438.3" font-weight="700" fill="#333">Data type</text><text x="663" y="438.3" font-weight="700" fill="#333">Description</text>
<text x="631" y="441.2">DATE</text><text x="663" y="441.2">A date. Format: YYYY-MM-DD. The supported range is from '1000-01-01' to '9999-12-31'</text>
<text x="631" y="444.2">DATETIME(fsp)</text><text x="663" y="444.2">A date and time combination. Format: YYYY-MM-DD hh:mm:ss. The supported range is from<tspan x="663" dy="1.5">'1000-01-01 00:00:00' to '9999-12-31 23:59:59'. Adding DEFAULT and ON UPDATE in the column</tspan><tspan x="663" dy="1.5">definition to get automatic initialization and updating to the current date and time</tspan></text>
<text x="631" y="451.2">TIMESTAMP(fsp)</text><text x="663" y="451.2">A timestamp. TIMESTAMP values are stored as the number of seconds since the Unix epoch<tspan x="663" dy="1.5">('1970-01-01 00:00:00' UTC). Format: YYYY-MM-DD hh:mm:ss. The supported range is from</tspan><tspan x="663" dy="1.5">'1970-01-01 00:00:01' UTC to '2038-01-09 03:14:07' UTC. Automatic initialization and</tspan><tspan x="663" dy="1.5">updating to the current date and time can be specified using DEFAULT CURRENT_TIMESTAMP</tspan></text>
<text x="631" y="460.4">TIME(fsp)</text><text x="663" y="460.4">A time. Format: hh:mm:ss. The supported range is from '-838:59:59' to '838:59:59'</text>
<text x="631" y="464">YEAR</text><text x="663" y="464">A year in four-digit format. Values allowed in four-digit format: 1901 to 2155, and 0000.<tspan x="663" dy="1.5">MySQL 8.0 does not support year in two-digit format.</tspan></text>
</g>
</g>

<!-- TCL -->
<g id="tcl"><rect x="532" y="542" width="19" height="6" rx="1.2" fill="#f5d32e"/><text class="m" x="541.5" y="546.1" fill="#3d3200">TCL</text></g>
<g id="l-tcl-def"><rect class="ny" x="560" y="473.8" width="20" height="4.4" rx="1"/><text class="l xy" x="570" y="476.8">Definition</text></g>
<g id="l-commit"><rect class="ny" x="560" y="481.8" width="19" height="4.4" rx="1"/><text class="l xy" x="569.5" y="484.8">COMMIT</text></g>
<g id="l-savepoint"><rect class="ny" x="559" y="505.8" width="24" height="4.4" rx="1"/><text class="l xy" x="571" y="508.8">SAVEPOINT</text></g>
<g id="l-rollback"><rect class="ny" x="559" y="542.8" width="24" height="4.4" rx="1"/><text class="l xy" x="571" y="545.8">ROLLBACK</text></g>
<g id="l-settrans"><rect class="ny" x="560" y="561.8" width="43" height="4.4" rx="1"/><text class="l xy" x="581.5" y="564.8">SET TRANSACTION</text></g>
<g id="l-setcons"><rect class="ny" x="559" y="614.8" width="41" height="4.4" rx="1"/><text class="l xy" x="579.5" y="617.8">SET CONSTRAINT</text></g>
<g id="l-types2"><rect class="ny" x="606" y="658.8" width="12" height="4.4" rx="1"/><text class="l xy" x="612" y="661.8">Types</text></g>
<g id="l-notnull"><rect class="ny" x="627" y="610.8" width="22" height="4.4" rx="1"/><text class="l xy" x="638" y="613.8">NOT NULL</text></g>
<g id="l-unique"><rect class="ny" x="627" y="626.8" width="18" height="4.4" rx="1"/><text class="l xy" x="636" y="629.8">UNIQUE</text></g>
<g id="l-pk"><rect class="ny" x="627" y="642.8" width="31" height="4.4" rx="1"/><text class="l xy" x="642.5" y="645.8">PRIMARY KEY</text></g>
<g id="l-fk"><rect class="ny" x="627" y="658.8" width="29" height="4.4" rx="1"/><text class="l xy" x="641.5" y="661.8">FOREIGN KEY</text></g>
<g id="l-check"><rect class="ny" x="627" y="673.8" width="16" height="4.4" rx="1"/><text class="l xy" x="635" y="676.8">CHECK</text></g>
<g id="l-default"><rect class="ny" x="627" y="688.8" width="19" height="4.4" rx="1"/><text class="l xy" x="636.5" y="691.8">DEFAULT</text></g>
<g id="l-cindex"><rect class="ny" x="627" y="712.8" width="31" height="4.4" rx="1"/><text class="l xy" x="642.5" y="715.8">CREATE INDEX</text></g>
<g id="tcl-def-a"><rect class="ny" x="589" y="473.8" width="59" height="4.4" rx="1"/><text class="t xy" x="590.2" y="476.6">Transaction Control Language</text></g>
<g id="commit-a"><rect class="ny" x="587" y="479.8" width="37" height="4.4" rx="1"/><text class="t xy" x="588.2" y="482.6">Commits a Transaction</text></g>
<g id="commit-b"><rect class="ny" x="587" y="484.8" width="21" height="4.4" rx="1"/><text class="t xy" x="588.2" y="487.6">COMMIT;</text></g>
<g id="sp-a"><rect class="ny" x="593" y="490.4" width="73" height="4.4" rx="1"/><text class="t xy" x="594.2" y="493.2">Sets a save point within a transaction.</text></g>
<g id="sp-b"><rect class="ny" x="593" y="496.6" width="86" height="11.6" rx="1"/><text class="t xy" x="594.2" y="499.4">A SAVEPOINT is a point in a transaction in which<tspan x="594.2" dy="2.4">you can roll the transaction back to a certain</tspan><tspan x="594.2" dy="2.4">point without rolling back the entire</tspan><tspan x="594.2" dy="2.4">transaction.</tspan></text></g>
<g id="sp-c"><rect class="ny" x="593" y="510" width="61" height="4.4" rx="1"/><text class="t xy" x="594.2" y="512.8">SAVEPOINT SAVEPOINT_NAME;</text></g>
<g id="sp-d"><rect class="ny" x="593" y="517" width="87" height="11.6" rx="1"/><text class="t xy" x="594.2" y="519.8">RELEASE SAVEPOINT:- This command is used to<tspan x="594.2" dy="2.4">remove a SAVEPOINT that you have created.</tspan><tspan x="594.2" dy="2.4">Syntax:</tspan><tspan x="594.2" dy="2.4">RELEASE SAVEPOINT SAVEPOINT_NAME</tspan></text></g>
<g id="rb-a"><rect class="ny" x="593" y="530.6" width="86" height="6.8" rx="1"/><text class="t xy" x="594.2" y="533.4">Rollbacks a transaction in case of any error<tspan x="594.2" dy="2.4">occurs</tspan></text></g>
<g id="rb-b"><rect class="ny" x="593" y="539" width="20" height="4.4" rx="1"/><text class="t xy" x="594.2" y="541.8">Like Undo</text></g>
<g id="rb-c"><rect class="ny" x="593" y="545" width="90" height="6.8" rx="1"/><text class="t xy" x="594.2" y="547.8">goes back to the last savepoint or committed<tspan x="594.2" dy="2.4">transaction</tspan></text></g>
<g id="rb-d"><rect class="ny" x="593" y="553.4" width="17" height="4.4" rx="1"/><text class="t xy" x="594.2" y="556.2">ROLLBACK;</text></g>
<g id="st-a"><rect class="ny" x="608" y="558.8" width="62" height="4.4" rx="1"/><text class="t xy" x="609.2" y="561.6">Places a name on a transaction.</text></g>
<g id="st-b"><rect class="ny" x="608" y="564.8" width="81" height="6.8" rx="1"/><text class="t xy" x="609.2" y="567.6">SET TRANSACTION [ READ WRITE | READ<tspan x="609.2" dy="2.4">ONLY ];</tspan></text></g>
<g id="sc-a"><rect class="ny" x="603" y="572.8" width="86" height="4.4" rx="1"/><text class="t xy" x="604.2" y="575.6">specify rules for the data in a table</text></g>
<g id="sc-b"><rect class="ny" x="603" y="578.4" width="85" height="4.4" rx="1"/><text class="t xy" x="604.2" y="581.2">limit the type of data that can go into a table</text></g>
<g id="sc-c"><rect class="ny" x="603" y="583.2" width="86" height="6.8" rx="1"/><text class="t xy" x="604.2" y="586">ensures the accuracy and reliability of the<tspan x="604.2" dy="2.4">data in the table</tspan></text></g>
<g id="sc-d"><rect class="ny" x="603" y="592" width="86" height="11.6" rx="1"/><text class="t xy" x="604.2" y="594.8">Constraints can be column level or table level.<tspan x="604.2" dy="2.4">Column level constraints apply to a column,</tspan><tspan x="604.2" dy="2.4">and table level constraints apply to the</tspan><tspan x="604.2" dy="2.4">whole table.</tspan></text></g>
<g id="nn"><rect class="ny" x="658" y="606" width="81" height="14" rx="1"/><text class="t xy" x="659.2" y="608.8">CREATE TABLE Colleges (<tspan x="659.2" dy="2.4">&#160;&#160;college_id INT NOT NULL,</tspan><tspan x="659.2" dy="2.4">&#160;&#160;college_code VARCHAR(20) NOT NULL,</tspan><tspan x="659.2" dy="2.4">&#160;&#160;college_name VARCHAR(50)</tspan><tspan x="659.2" dy="2.4">);</tspan></text></g>
<g id="uq"><rect class="ny" x="653" y="622.6" width="76" height="14" rx="1"/><text class="t xy" x="654.2" y="625.4">CREATE TABLE Colleges (<tspan x="654.2" dy="2.4">&#160;&#160;college_id INT NOT NULL UNIQUE,</tspan><tspan x="654.2" dy="2.4">&#160;&#160;college_code VARCHAR(20) UNIQUE,</tspan><tspan x="654.2" dy="2.4">&#160;&#160;college_name VARCHAR(50)</tspan><tspan x="654.2" dy="2.4">);</tspan></text></g>
<g id="pk"><rect class="ny" x="664" y="638" width="81" height="14" rx="1"/><text class="t xy" x="665.2" y="640.8">CREATE TABLE Colleges (<tspan x="665.2" dy="2.4">&#160;&#160;college_id INT PRIMARY KEY,</tspan><tspan x="665.2" dy="2.4">&#160;&#160;college_code VARCHAR(20) NOT NULL,</tspan><tspan x="665.2" dy="2.4">&#160;&#160;college_name VARCHAR(50)</tspan><tspan x="665.2" dy="2.4">);</tspan></text></g>
<g id="fk"><rect class="ny" x="663" y="655.2" width="90" height="11.6" rx="1"/><text class="t xy" x="664.2" y="658">CREATE TABLE Orders (<tspan x="664.2" dy="2.4">&#160;&#160;order_id INT PRIMARY KEY,</tspan><tspan x="664.2" dy="2.4">&#160;&#160;customer_id int REFERENCES Customers(id)</tspan><tspan x="664.2" dy="2.4">);</tspan></text></g>
<g id="ck"><rect class="ny" x="652" y="670.2" width="72" height="11.6" rx="1"/><text class="t xy" x="653.2" y="673">CREATE TABLE Orders (<tspan x="653.2" dy="2.4">&#160;&#160;order_id INT PRIMARY KEY,</tspan><tspan x="653.2" dy="2.4">&#160;&#160;amount int CHECK (amount &gt;= 100)</tspan><tspan x="653.2" dy="2.4">);</tspan></text></g>
<g id="df"><rect class="ny" x="655" y="684" width="90" height="14" rx="1"/><text class="t xy" x="656.2" y="686.8">CREATE TABLE College (<tspan x="656.2" dy="2.4">&#160;&#160;college_id INT PRIMARY KEY,</tspan><tspan x="656.2" dy="2.4">&#160;&#160;college_code VARCHAR(20),</tspan><tspan x="656.2" dy="2.4">&#160;&#160;college_country VARCHAR(20) DEFAULT 'US'</tspan><tspan x="656.2" dy="2.4">);</tspan></text></g>
<g id="ci"><rect class="ny" x="666" y="701.5" width="81" height="26.5" rx="1"/><text class="t xy" x="667.2" y="704.3">-- create table<tspan x="667.2" dy="2.4">CREATE TABLE Colleges (</tspan><tspan x="667.2" dy="2.4">&#160;&#160;college_id INT PRIMARY KEY,</tspan><tspan x="667.2" dy="2.4">&#160;&#160;college_code VARCHAR(20) NOT NULL,</tspan><tspan x="667.2" dy="2.4">&#160;&#160;college_name VARCHAR(50)</tspan><tspan x="667.2" dy="2.4">);</tspan><tspan x="667.2" dy="4.8">-- create index</tspan><tspan x="667.2" dy="2.4">CREATE INDEX college_index</tspan><tspan x="667.2" dy="2.4">ON Colleges(college_code);</tspan></text></g>

<!-- DCL -->
<g id="dcl"><rect x="532" y="771.5" width="20" height="5.5" rx="1.2" fill="#1dbf7b"/><text class="m" x="542" y="775.3" fill="#0b3b26">DCL</text></g>
<g id="l-dcl-def"><rect class="ng" x="560" y="737.8" width="22" height="4.4" rx="1"/><text class="l xg" x="571" y="740.8">Definition</text></g>
<g id="l-grant"><rect class="ng" x="560" y="771.8" width="17" height="4.4" rx="1"/><text class="l xg" x="568.5" y="774.8">GRANT</text></g>
<g id="l-revoke"><rect class="ng" x="560" y="814.8" width="19" height="4.4" rx="1"/><text class="l xg" x="569.5" y="817.8">REVOKE</text></g>
<g id="dcl-def-a"><rect class="ng" x="589" y="733.8" width="47" height="4.4" rx="1"/><text class="t xg" x="590.2" y="736.6">Data Control Language</text></g>
<g id="dcl-def-b"><rect class="ng" x="589" y="739.8" width="86" height="6.8" rx="1"/><text class="t xg" x="590.2" y="742.6">deal with the rights, permissions, and other<tspan x="590.2" dy="2.4">controls of the database system.</tspan></text></g>
<g id="gr-a"><rect class="ng" x="585" y="747.8" width="89" height="4.4" rx="1"/><text class="t xg" x="586.2" y="750.6">gives users access privileges to the database</text></g>
<g id="gr-b"><rect class="ng" x="585" y="753.5" width="81" height="41.2" rx="1"/><text class="t xg" x="586.2" y="756.3">GRANT<tspan x="586.2" dy="2.4">&#160;&#160;privilege1, privilege2, privilege3...</tspan><tspan x="586.2" dy="2.4">&#160;&#160;ON object_type</tspan><tspan x="586.2" dy="2.4">&#160;&#160;TO user_or_role1, user_or_role2,</tspan><tspan x="586.2" dy="2.4">&#160;&#160;user_or_role3...</tspan><tspan x="586.2" dy="2.4">&#160;&#160;[WITH GRANT OPTION]</tspan><tspan x="586.2" dy="2.4">GRANT {</tspan><tspan x="586.2" dy="2.4">&#160;&#160;{SELECT | INSERT | UPDATE | DELETE}</tspan><tspan x="586.2" dy="2.4">&#160;&#160;[,...] | ALL [PRIVILEGES]</tspan><tspan x="586.2" dy="2.4">&#160;&#160;}</tspan><tspan x="586.2" dy="2.4">&#160;&#160;ON { [TABLE] table_name</tspan><tspan x="586.2" dy="2.4">&#160;&#160;&#160;&#160;| ALL TABLES IN SCHEMA schema }</tspan><tspan x="586.2" dy="2.4">&#160;&#160;TO { role_name | PUBLIC }</tspan><tspan x="586.2" dy="2.4">&#160;&#160;&#160;&#160;[, ...]</tspan><tspan x="586.2" dy="2.4">&#160;&#160;}</tspan><tspan x="586.2" dy="2.4">};</tspan></text></g>
<g id="gr-c"><rect class="ng" x="585" y="796.8" width="86" height="6.8" rx="1"/><text class="t xg" x="586.2" y="799.6">GRANT SELECT ON test_database.MyTable TO<tspan x="586.2" dy="2.4">'test_user'@'localhost';</tspan></text></g>
<g id="rv-a"><rect class="ng" x="587" y="805" width="88" height="6.8" rx="1"/><text class="t xg" x="588.2" y="807.8">withdraw the user's access privileges given by<tspan x="588.2" dy="2.4">using the GRANT command</tspan></text></g>
<g id="rv-b"><rect class="ng" x="587" y="813.6" width="58" height="9.2" rx="1"/><text class="t xg" x="588.2" y="816.4">REVOKE privilege_name<tspan x="588.2" dy="2.4">ON object_name</tspan><tspan x="588.2" dy="2.4">FROM user_account_name;</tspan></text></g>
<g id="rv-c"><rect class="ng" x="587" y="824.4" width="86" height="6.8" rx="1"/><text class="t xg" x="588.2" y="827.2">REVOKE ALL, GRANT OPTION FROM user_or_role<tspan x="588.2" dy="2.4">[, user_or_role]...</tspan></text></g>

<!-- DDL -->
<g id="ddl"><rect x="532" y="915" width="20" height="5.5" rx="1.2" fill="#4c6ef5"/><text class="m" x="542" y="918.8" fill="#fff">DDL</text></g>
<g id="l-ddl-def"><rect class="nb" x="561" y="840.8" width="19" height="4.4" rx="1"/><text class="l xb" x="570.5" y="843.8">Definition</text></g>
<g id="l-create"><rect class="nb" x="561" y="885.8" width="17" height="4.4" rx="1"/><text class="l xb" x="569.5" y="888.8">CREATE</text></g>
<g id="l-drop"><rect class="nb" x="561" y="933.8" width="13" height="4.4" rx="1"/><text class="l xb" x="567.5" y="936.8">DROP</text></g>
<g id="l-alter"><rect class="nb" x="561" y="956.8" width="14" height="4.4" rx="1"/><text class="l xb" x="568" y="959.8">ALTER</text></g>
<g id="l-truncate"><rect class="nb" x="561" y="988.8" width="22" height="4.4" rx="1"/><text class="l xb" x="572" y="991.8">TRUNCATE</text></g>
<g id="ddl-def-a"><rect class="nb" x="589" y="836.8" width="47" height="4.4" rx="1"/><text class="t xb" x="590.2" y="839.6">Data Definition Language</text></g>
<g id="ddl-def-b"><rect class="nb" x="589" y="841.8" width="73" height="4.4" rx="1"/><text class="t xb" x="590.2" y="844.6">used to define the database schema</text></g>
<g id="ddl-def-c"><rect class="nb" x="589" y="847" width="89" height="6.8" rx="1"/><text class="t xb" x="590.2" y="849.8">create and modify the structure of database objects<tspan x="590.2" dy="2.4">in the database</tspan></text></g>
<g id="cr-a"><rect class="nb" x="586" y="855" width="82" height="6.8" rx="1"/><text class="t xb" x="587.2" y="857.8">create table, index, function, views, store<tspan x="587.2" dy="2.4">procedure, and triggers.</tspan></text></g>
<g id="cr-b"><rect class="nb" x="586" y="863.4" width="54" height="18.8" rx="1"/><text class="t xb" x="587.2" y="866.2">CREATE TABLE Persons (<tspan x="587.2" dy="2.4">&#160;&#160;PersonID int,</tspan><tspan x="587.2" dy="2.4">&#160;&#160;LastName varchar(255),</tspan><tspan x="587.2" dy="2.4">&#160;&#160;FirstName varchar(255),</tspan><tspan x="587.2" dy="2.4">&#160;&#160;Address varchar(255),</tspan><tspan x="587.2" dy="2.4">&#160;&#160;City varchar(255)</tspan><tspan x="587.2" dy="2.4">);</tspan></text></g>
<g id="cr-c"><rect class="nb" x="586" y="885.6" width="71" height="6.8" rx="1"/><text class="t xb" x="587.2" y="888.4">CREATE INDEX idx_pname<tspan x="587.2" dy="2.4">ON Persons (LastName, FirstName);</tspan></text></g>
<g id="cr-d"><rect class="nb" x="586" y="893.8" width="77" height="11.6" rx="1"/><text class="t xb" x="587.2" y="896.6">CREATE VIEW [Brazil Customers] AS<tspan x="587.2" dy="2.4">SELECT CustomerName, ContactName</tspan><tspan x="587.2" dy="2.4">FROM Customers</tspan><tspan x="587.2" dy="2.4">WHERE Country = 'Brazil';</tspan></text></g>
<g id="cr-e"><rect class="nb" x="586" y="907.4" width="77" height="21.2" rx="1"/><text class="t xb" x="587.2" y="910.2">Create procedure InsertData(<tspan x="587.2" dy="2.4">&#160;&#160;IN name VARCHAR(50),</tspan><tspan x="587.2" dy="2.4">&#160;&#160;IN age INT,</tspan><tspan x="587.2" dy="2.4">&#160;&#160;IN bio VARCHAR(100))</tspan><tspan x="587.2" dy="2.4">BEGIN</tspan><tspan x="587.2" dy="2.4">&#160;&#160;INSERT INTO EmpRecord(Name, Age,</tspan><tspan x="587.2" dy="2.4">&#160;&#160;Details) VALUES(name, age, bio);</tspan><tspan x="587.2" dy="2.4">END</tspan></text></g>
<g id="drop-a"><rect class="nb" x="585" y="930.8" width="74" height="4.4" rx="1"/><text class="t xb" x="586.2" y="933.6">delete table objects including the table</text></g>
<g id="drop-b"><rect class="nb" x="585" y="936.8" width="47" height="4.4" rx="1"/><text class="t xb" x="586.2" y="939.6">DROP TABLE table_name;</text></g>
<g id="alt-a"><rect class="nb" x="584" y="942.4" width="68" height="4.4" rx="1"/><text class="t xb" x="585.2" y="945.2">alter the structure of the database</text></g>
<g id="alt-b"><rect class="nb" x="584" y="947.2" width="58" height="6.8" rx="1"/><text class="t xb" x="585.2" y="950">ALTER TABLE Customers<tspan x="585.2" dy="2.4">ADD Email varchar(255);</tspan></text></g>
<g id="alt-c"><rect class="nb" x="584" y="955.4" width="49" height="6.8" rx="1"/><text class="t xb" x="585.2" y="958.2">ALTER TABLE Customers<tspan x="585.2" dy="2.4">DROP COLUMN Email;</tspan></text></g>
<g id="alt-d"><rect class="nb" x="584" y="963.6" width="83" height="6.8" rx="1"/><text class="t xb" x="585.2" y="966.4">ALTER TABLE table_name<tspan x="585.2" dy="2.4">RENAME COLUMN old_name to new_name;</tspan></text></g>
<g id="alt-e"><rect class="nb" x="584" y="971.8" width="64" height="6.8" rx="1"/><text class="t xb" x="585.2" y="974.6">ALTER TABLE table_name<tspan x="585.2" dy="2.4">MODIFY column_name datatype;</tspan></text></g>
<g id="tr-a"><rect class="nb" x="593" y="980.4" width="89" height="6.8" rx="1"/><text class="t xb" x="594.2" y="983.2">remove all records from a table, including all<tspan x="594.2" dy="2.4">spaces allocated for the records are removed</tspan></text></g>
<g id="tr-b"><rect class="nb" x="593" y="988.6" width="84" height="4.4" rx="1"/><text class="t xb" x="594.2" y="991.4">rows are deleted but not the table structure</text></g>
<g id="tr-c"><rect class="nb" x="593" y="994.6" width="61" height="4.4" rx="1"/><text class="t xb" x="594.2" y="997.4">TRUNCATE TABLE table_name;</text></g>

<text x="384" y="1015" text-anchor="middle" style="font-size:5.5px" fill="#cfcfcf">Presented with xmind</text>
</svg>
